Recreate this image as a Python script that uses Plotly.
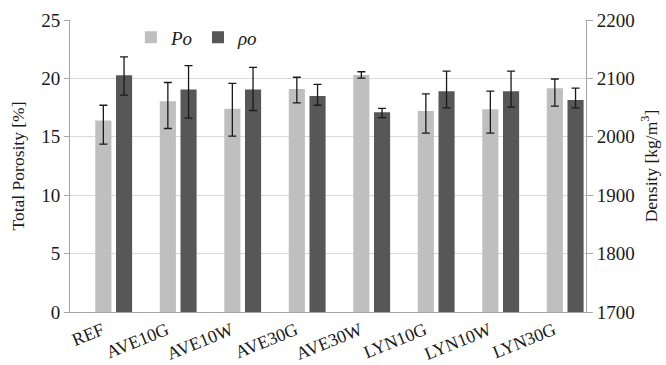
import plotly.graph_objects as go

categories = ["REF", "AVE10G", "AVE10W", "AVE30G", "AVE30W", "LYN10G", "LYN10W", "LYN30G"]
porosity = [16.4, 18.05, 17.4, 19.1, 20.3, 17.2, 17.35, 19.15]
porosity_err_plus = [1.3, 1.6, 2.17, 1.0, 0.27, 1.48, 1.56, 0.8]
porosity_err_minus = [2.03, 2.34, 2.34, 1.19, 0.27, 1.89, 2.04, 1.52]
density = [2105.6, 2081, 2081, 2070, 2042, 2078, 2078, 2063]
density_err_plus = [31.4, 41, 38, 19.7, 6.6, 34.5, 34.5, 20.4]
density_err_minus = [34.2, 49, 36, 16, 9, 28.4, 27.2, 13.4]

FONT = "Liberation Serif, Times New Roman, serif"
TXT = "#1a1a1a"
TICK = 19
TITLE = 17.5

fig = go.Figure()
fig.add_trace(go.Bar(
    x=categories, y=porosity, name="<i>Po</i>", yaxis="y",
    marker=dict(color="#bfbfbf", line=dict(width=0)),
    width=0.25, offset=-0.108,
    error_y=dict(type="data", symmetric=False, array=porosity_err_plus,
                 arrayminus=porosity_err_minus, color="#1a1a1a", thickness=1.3, width=4),
))
fig.add_trace(go.Bar(
    x=categories, y=density, name="<i>ρo</i>", yaxis="y2",
    marker=dict(color="#575757", line=dict(width=0)),
    width=0.25, offset=0.213,
    error_y=dict(type="data", symmetric=False, array=density_err_plus,
                 arrayminus=density_err_minus, color="#1a1a1a", thickness=1.3, width=4),
))

fig.update_layout(
    width=666, height=365,
    margin=dict(l=70, r=80, t=20, b=53),
    paper_bgcolor="white", plot_bgcolor="white",
    barmode="overlay",
    font=dict(family=FONT, size=TICK, color=TXT),
    legend=dict(orientation="h", x=0.118, y=0.94, xanchor="left", yanchor="middle",
                font=dict(family=FONT, size=TICK, color=TXT), bgcolor="rgba(0,0,0,0)",
                itemwidth=30, tracegroupgap=0),
    xaxis=dict(
        type="category", range=[-0.5, 7.5], tickangle=-22, automargin=False,
        showline=True, linecolor="#a6a6a6", linewidth=1,
        ticks="", showgrid=False,
        tickfont=dict(family=FONT, size=18, color=TXT),
    ),
    yaxis=dict(
        range=[0, 25], dtick=5, tick0=0, automargin=False,
        showline=True, linecolor="#a6a6a6", linewidth=1,
        ticks="outside", ticklen=5, tickcolor="#a6a6a6",
        showgrid=True, gridcolor="#d9d9d9", gridwidth=1.3,
        zeroline=False,
        tickfont=dict(family=FONT, size=TICK, color=TXT),
        title=dict(text="Total Porosity [%]", font=dict(family=FONT, size=TITLE, color=TXT), standoff=12),
    ),
    yaxis2=dict(
        range=[1700, 2200], dtick=100, tick0=1700, automargin=False,
        overlaying="y", side="right",
        showline=True, linecolor="#a6a6a6", linewidth=1,
        ticks="outside", ticklen=6, tickcolor="#a6a6a6",
        showgrid=False, zeroline=False,
        tickfont=dict(family=FONT, size=TICK, color=TXT),
        title=dict(text="Density [kg/m<sup>3</sup>]", font=dict(family=FONT, size=TITLE, color=TXT), standoff=10),
    ),
)

fig.write_html("out.html")
